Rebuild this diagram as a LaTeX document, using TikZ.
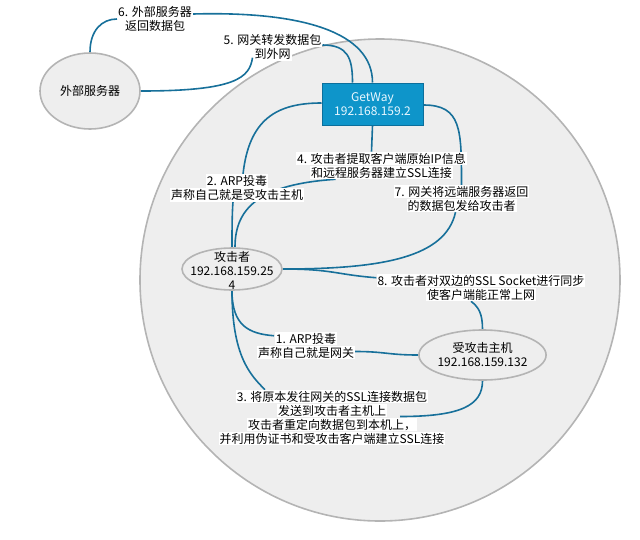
\documentclass[tikz,border=0pt]{standalone}
\usepackage{fontspec}
\setmainfont{Noto Sans CJK SC}
\usetikzlibrary{shapes.geometric}
\pgfdeclarelayer{bg}
\pgfsetlayers{bg,main}
\definecolor{lnc}{HTML}{17709A}
\definecolor{ringc}{HTML}{B4B4B4}
\definecolor{fillc}{HTML}{EEEEEE}
\definecolor{gwfill}{HTML}{0E95CA}
\definecolor{gwdraw}{HTML}{0B6F9C}
\definecolor{gwtext}{HTML}{E8F7FF}
\newcommand{\hl}[1]{{\setlength{\fboxsep}{1pt}\colorbox{white}{#1}}}
\newcommand{\lblfont}{\fontsize{12}{14}\selectfont\lineskiplimit=-10pt\relax}
\begin{document}
\begin{tikzpicture}[x=1pt,y=-1pt,
  every node/.style={font=\lblfont},
  ell/.style={ellipse, draw=ringc, fill=fillc, line width=1.6pt, inner sep=0pt},
  lbl/.style={align=center, inner sep=0pt},
  conn/.style={draw=lnc, line width=1.6pt}
]
\useasboundingbox (0,0) rectangle (640,539);

% nodes
\node[ell, minimum width=100pt, minimum height=76pt] (ext) at (90,91) {外部服务器};
\node[draw=gwdraw, fill=gwfill, line width=1pt, minimum width=101pt, minimum height=42pt,
      text=gwtext, align=center, inner sep=0pt] (gw) at (372.5,104) {GetWay\\192.168.159.2};
\node[ell, minimum width=100pt, minimum height=42pt] (att) at (232,269) {};
\node[align=center, inner sep=0pt] (atttext) at (232,270) {攻击者\\192.168.159.25\\4};
\node[ell, minimum width=121pt, minimum height=50pt, align=center] (vic) at (482.5,355) {受攻击主机\\192.168.159.132};

% labels
\node[lbl] (l6) at (155,19) {\hl{6. 外部服务器}\\\hl{返回数据包}};
\node[lbl] (l5) at (272.5,47) {\hl{5. 网关转发数据包}\\\hl{到外网}};
\node[lbl] (l2) at (237,188) {\hl{2. ARP投毒}\\\hl{声称自己就是受攻击主机}};
\node[lbl] (l4) at (381.5,165.5) {\hl{4. 攻击者提取客户端原始IP信息}\\\hl{和远程服务器建立SSL连接}};
\node[lbl] (l7) at (461.5,198.5) {\hl{7. 网关将远端服务器返回}\\\hl{的数据包发给攻击者}};
\node[lbl] (l8) at (481,287.5) {\hl{8. 攻击者对双边的SSL Socket进行同步}\\\hl{使客户端能正常上网}};
\node[lbl] (l1) at (306,345.5) {\hl{1. ARP投毒}\\\hl{声称自己就是网关}};
\node[lbl] (l3) at (332,417.5) {\hl{3. 将原本发往网关的SSL连接数据包}\\\hl{发送到攻击者主机上}\\\hl{攻击者重定向数据包到本机上，}\\\hl{并利用伪证书和受攻击客户端建立SSL连接}};

\begin{pgfonlayer}{bg}
\draw[draw=ringc, fill=fillc, line width=1.6pt] (380,280) ellipse [x radius=240pt, y radius=241pt];
% 6
\draw[conn] (ext.north) .. controls +(0,-22) and +(-15,0) .. (l6.west);
\draw[conn] ([yshift=5pt]l6.east) .. controls +(110,-3) and +(0,-50) .. (gw.north);
% 5
\draw[conn] (ext.east) .. controls +(95,0) and +(-3,20) .. ([xshift=-20pt,yshift=3pt]l5.south);
\draw[conn] ([yshift=2pt]l5.east) .. controls +(25,0) and +(0,-25) .. ([xshift=-20pt]gw.north);
% 2
\draw[conn] (att.north) .. controls +(0,-15) and +(-1,12) .. ([xshift=-4pt]l2.south);
\draw[conn] ([xshift=6pt]l2.north) .. controls +(6,-55) and +(-45,0) .. ([yshift=1pt]gw.west);
% 4
\draw[conn] (gw.south) -- ([xshift=-10pt]l4.north);
\draw[conn] ([xshift=-46pt]l4.south) .. controls +(-75,5) and +(0,-40) .. ([xshift=3pt]att.north);
% 7
\draw[conn] ([yshift=-1pt]gw.east) .. controls +(38,0) and +(0,-55) .. (l7.north);
\draw[conn] ([xshift=-6pt]l7.south) .. controls +(-10,45) and +(100,0) .. (att.east);
% 8
\draw[conn] (att.east) .. controls +(50,0) and +(-40,-3) .. ([yshift=-4pt]l8.north west);
\draw[conn] ([xshift=-10pt]l8.south) .. controls +(8,6) and +(0,-15) .. (vic.north);
% 1
\draw[conn] (att.south) .. controls +(0,35) and +(-25,-2) .. ([xshift=-32pt,yshift=-4pt]l1.north);
\draw[conn] ([yshift=-6pt]l1.east) .. controls +(30,0) and +(-30,0) .. (vic.west);
% 3
\draw[conn] (att.south) .. controls +(0,65) and +(-15,-15) .. ([xshift=-67pt]l3.north);
\draw[conn] ([xshift=68pt,yshift=1pt]l3.center) .. controls +(60,0) and +(0,25) .. (vic.south);
\end{pgfonlayer}
\end{tikzpicture}
\end{document}
